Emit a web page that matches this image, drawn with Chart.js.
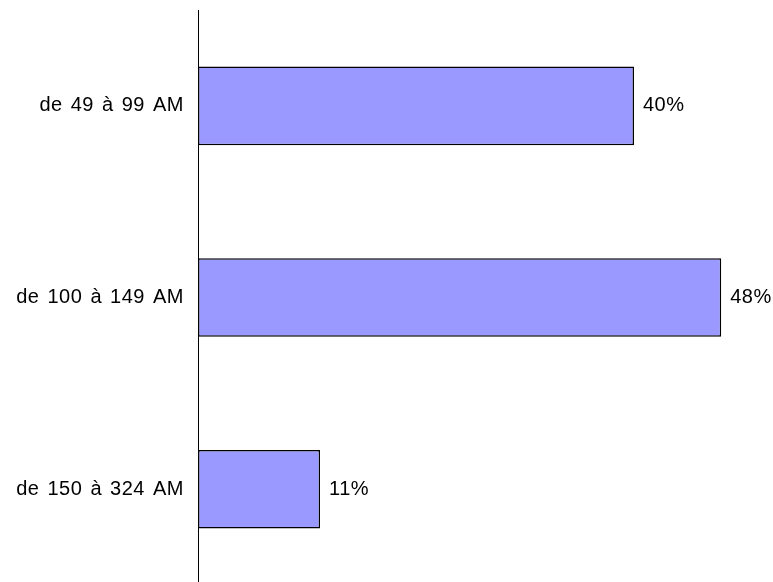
<!DOCTYPE html>
<html lang="fr">
<head>
  <meta charset="UTF-8">
  <title>chart</title>
  <script src="https://cdn.jsdelivr.net/npm/chart.js@4.4.0/dist/chart.umd.min.js"></script>
  <style>
    html, body { margin: 0; padding: 0; background: #fff; overflow: hidden; }
    #wrap { width: 773px; height: 585px; position: relative; }
  </style>
</head>
<body>
<div id="wrap"><canvas id="myChart"></canvas></div>
<script>
  // data
  const categories = ['de 49 à 99 AM', 'de 100 à 149 AM', 'de 150 à 324 AM'];
  const values = [40, 48, 11.2];
  const valueLabels = ['40%', '48%', '11%'];

  // the original text is set a little looser than Arial
  const spacingPlugin = {
    id: 'textSpacing',
    beforeDraw(chart) {
      chart.ctx.letterSpacing = '0.5px';
      chart.ctx.wordSpacing = '2px';
    }
  };

  // draws the % text just right of each bar
  const valueLabelPlugin = {
    id: 'valueLabels',
    afterDatasetsDraw(chart) {
      const ctx = chart.ctx;
      const meta = chart.getDatasetMeta(0);
      ctx.save();
      ctx.font = '20px "Liberation Sans", Arial, sans-serif';
      ctx.fillStyle = '#000';
      ctx.textAlign = 'left';
      ctx.textBaseline = 'middle';
      meta.data.forEach(function(bar, i) {
        ctx.fillText(valueLabels[i], bar.x + 9, bar.y);
      });
      ctx.restore();
    }
  };

  const ctx = document.getElementById('myChart');
  new Chart(ctx, {
    type: 'bar',
    data: {
      labels: categories,
      datasets: [{
        data: values,
        backgroundColor: '#9999FF',
        borderColor: '#000',
        borderWidth: 1.5,
        borderSkipped: false,
        categoryPercentage: 1,
        barPercentage: 0.41
      }]
    },
    options: {
      indexAxis: 'y',
      responsive: true,
      maintainAspectRatio: false,
      animation: false,
      layout: { padding: { top: 10, right: 30, left: 0, bottom: 0 } },
      plugins: {
        legend: { display: false },
        tooltip: { enabled: false }
      },
      scales: {
        x: {
          display: false,
          min: 0,
          max: 50
        },
        y: {
          grid: { display: false, drawTicks: false },
          border: { display: true, color: '#000', width: 1 },
          ticks: {
            color: '#000',
            padding: 14,
            font: { family: '"Liberation Sans", Arial, sans-serif', size: 20 }
          },
          afterFit: function(scale) {
            scale.width = 198;
            scale.paddingTop = 0;
            scale.paddingBottom = 0;
          }
        }
      }
    },
    plugins: [spacingPlugin, valueLabelPlugin]
  });
</script>
</body>
</html>
